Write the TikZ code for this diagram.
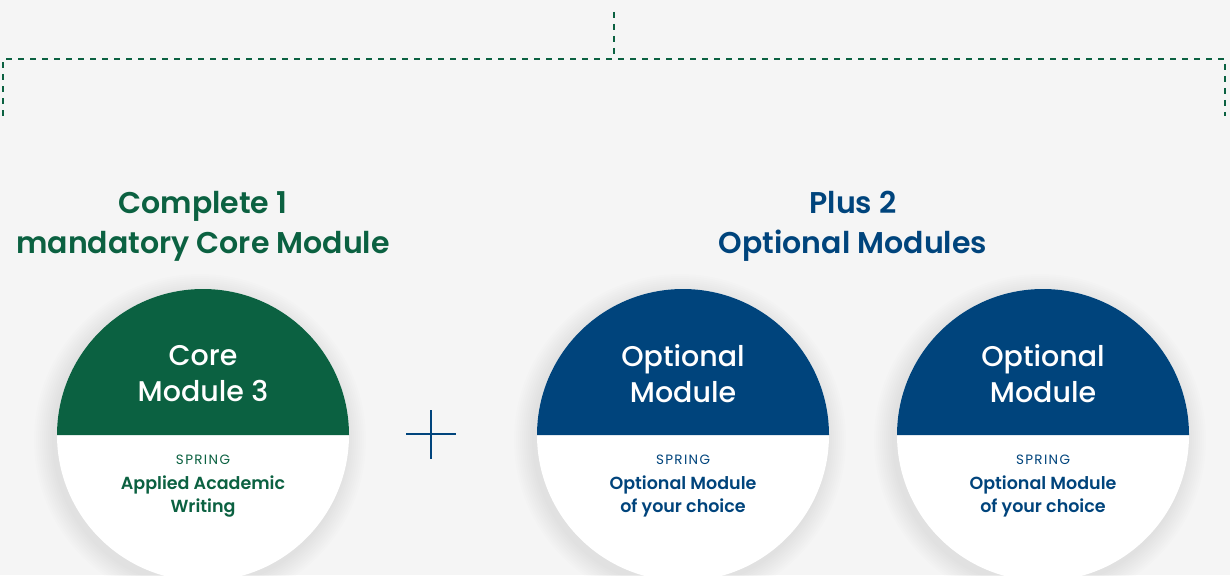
\documentclass[tikz,border=0pt]{standalone}
\usepackage{fontspec}
\setmainfont{Poppins}[BoldFont={Poppins Medium}]
\newfontfamily\semibold{Poppins SemiBold}
\definecolor{coregreen}{HTML}{0B6141}
\definecolor{optblue}{HTML}{00447C}
\definecolor{paper}{HTML}{F5F5F5}
\begin{document}
\begin{tikzpicture}[x=1pt,y=-1pt,
  heading/.style={font=\fontsize{30}{40}\selectfont\semibold,align=center},
  disctitle/.style={white,font=\fontsize{28.5}{36}\selectfont\bfseries,align=center},
  term/.style={font=\fontsize{13.5}{14}\selectfont\addfontfeatures{LetterSpace=10}},
  course/.style={font=\fontsize{17.5}{22.5}\selectfont\semibold,align=center},
  bracket/.style={coregreen,line width=2pt,dash pattern=on 6pt off 6pt}]

\fill[paper] (0,0) rectangle (1230,575);
\useasboundingbox (0,0) rectangle (1230,575);
\clip (0,0) rectangle (1230,575);

% dashed bracket
\coordinate (top) at (614,12);
\coordinate (mid) at (614,59);
\coordinate (left) at (3,59);
\coordinate (leftend) at (3,116);
\coordinate (right) at (1225,59);
\coordinate (rightend) at (1225,116);
\draw[bracket] (top) -- (mid);
\draw[bracket] (leftend) -- (left) -- (right) -- (rightend);

% headings
\node[heading,coregreen] (corehead) at (203,226) {Complete 1\\mandatory Core Module};
\node[heading,optblue] (opthead) at (853,226) {Plus 2\\Optional Modules};

% discs
\coordinate (core) at (203,435);
\coordinate (optA) at (683,435);
\coordinate (optB) at (1043,435);

\foreach \c in {core,optA,optB}{
  \foreach \k in {1,...,10}
    \fill[black,opacity=0.006] ([shift={(-3,5)}]\c) circle ({146+\k*2});
  \fill[white] (\c) circle (146);
}
\fill[coregreen] (core) ++(-146,0) arc (180:360:146) -- cycle;
\fill[optblue] (optA) ++(-146,0) arc (180:360:146) -- cycle;
\fill[optblue] (optB) ++(-146,0) arc (180:360:146) -- cycle;

\node[disctitle] (coretitle) at ([yshift=61]core) {Core\\Module 3};
\node[disctitle] (optAtitle) at ([yshift=61]optA) {Optional\\Module};
\node[disctitle] (optBtitle) at ([yshift=61]optB) {Optional\\Module};

\node[term,coregreen] (coreterm) at ([yshift=-25]core) {SPRING};
\node[term,optblue] (optAterm) at ([yshift=-25]optA) {SPRING};
\node[term,optblue] (optBterm) at ([yshift=-25]optB) {SPRING};

\node[course,coregreen] (corecourse) at ([yshift=-61.5]core) {Applied Academic\\Writing};
\node[course,optblue] (optAcourse) at ([yshift=-61.5]optA) {Optional Module\\of your choice};
\node[course,optblue] (optBcourse) at ([yshift=-61.5]optB) {Optional Module\\of your choice};

% plus sign
\coordinate (plus) at (431,434);
\draw[optblue,line width=1.6pt] (plus) ++(-25,0) -- ++(50,0);
\draw[optblue,line width=1.6pt] (plus) ++(0,-24) -- ++(0,49);
\end{tikzpicture}
\end{document}
